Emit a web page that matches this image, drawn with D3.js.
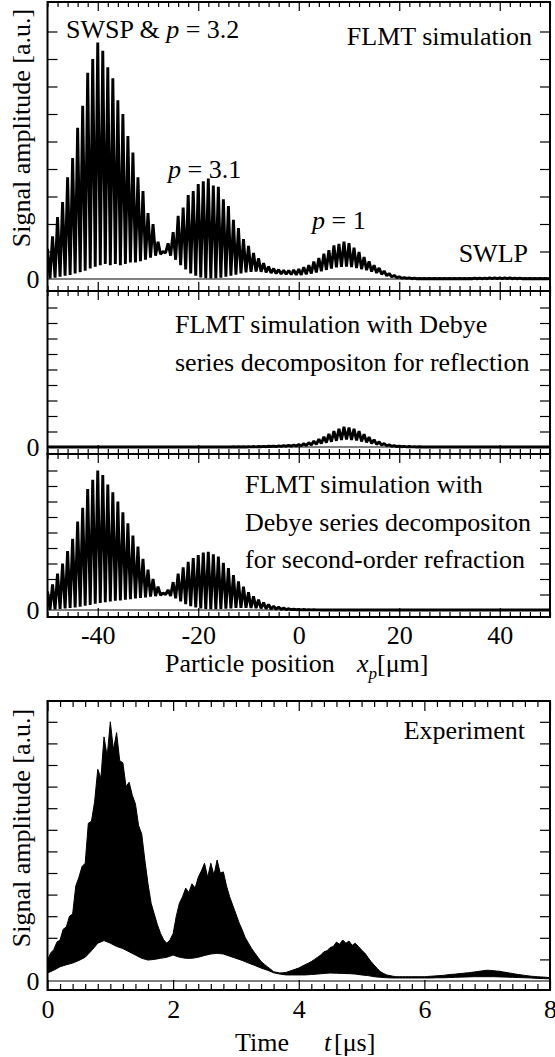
<!DOCTYPE html>
<html>
<head>
<meta charset="utf-8">
<script src="https://cdn.jsdelivr.net/npm/d3@7"></script>
<style>
  body { margin: 0; background: #fff; }
  text { font-family: "Liberation Serif", "Times New Roman", serif; fill: #000; }
</style>
</head>
<body>
<script>
// ---- data ----
// simulated signal: fringe maxima at every 1 um (-50..50), minima half way between
let peakPos = d3.range(-50, 50.5, 1);
let dipPos = d3.range(-49.5, 50, 1);

// FLMT simulation (full)
let simPeaks = [
  1.1, 1.55, 2.25, 2.8, 3.7, 4.4, 5.5, 6.3, 7.5, 8.0,
  8.6, 8.3, 7.7, 7.3, 6.5, 6.0, 5.2, 4.6, 3.7, 3.2,
  2.4, 2.0, 1.35, 1.0, 1.3, 1.7, 2.3, 2.6, 3.05, 3.2,
  3.45, 3.55, 3.65, 3.4, 3.35, 2.9, 2.65, 2.15, 1.85, 1.45,
  1.2, 0.95, 0.75, 0.58, 0.45, 0.38, 0.34, 0.32, 0.31, 0.33,
  0.36, 0.43, 0.5, 0.63, 0.76, 0.92, 1.05, 1.22, 1.28, 1.36,
  1.3, 1.14, 0.98, 0.8, 0.64, 0.5, 0.4, 0.29, 0.2, 0.13,
  0.08, 0.05, 0.04, 0.03, 0.02, 0.02, 0.02, 0.02, 0.02, 0.02,
  0.02, 0.02, 0.02, 0.02, 0.02, 0.03, 0.03, 0.03, 0.04, 0.04,
  0.04, 0.04, 0.04, 0.03, 0.03, 0.02, 0.02, 0.02, 0.02, 0.02, 0.02
];
let simDips = [
  0.02, 0.05, 0.08, 0.12, 0.15, 0.2, 0.25, 0.3, 0.38, 0.45,
  0.5, 0.55, 0.5, 0.55, 0.5, 0.55, 0.6, 0.6, 0.65, 0.7,
  0.78, 0.85, 0.9, 0.95, 0.85, 0.7, 0.5, 0.35, 0.2, 0.12,
  0.06, 0.03, 0.02, 0.03, 0.05, 0.08, 0.12, 0.16, 0.2, 0.24,
  0.26, 0.27, 0.26, 0.24, 0.22, 0.2, 0.18, 0.17, 0.16, 0.15,
  0.15, 0.17, 0.2, 0.24, 0.28, 0.33, 0.38, 0.42, 0.44, 0.45,
  0.43, 0.4, 0.36, 0.32, 0.27, 0.22, 0.17, 0.12, 0.08, 0.05,
  0.03, 0.02, 0.01, 0.01, 0.01, 0.01, 0.01, 0.01, 0.01, 0.01,
  0.01, 0.01, 0.01, 0.01, 0.01, 0.01, 0.01, 0.01, 0.01, 0.01,
  0.01, 0.01, 0.01, 0.01, 0.01, 0.01, 0.01, 0.01, 0.01, 0.01
];

// Debye decomposition: reflection (p = 1)
let reflPeaks = [
  0.01, 0.01, 0.01, 0.01, 0.01, 0.01, 0.01, 0.01, 0.01, 0.01,
  0.01, 0.01, 0.01, 0.01, 0.01, 0.01, 0.01, 0.01, 0.01, 0.01,
  0.01, 0.01, 0.01, 0.01, 0.01, 0.01, 0.01, 0.01, 0.01, 0.01,
  0.01, 0.01, 0.01, 0.01, 0.01, 0.01, 0.01, 0.02, 0.02, 0.02,
  0.02, 0.03, 0.03, 0.04, 0.05, 0.06, 0.07, 0.09, 0.11, 0.13,
  0.16, 0.21, 0.28, 0.38, 0.5, 0.66, 0.84, 1.02, 1.18, 1.3,
  1.26, 1.17, 1.02, 0.83, 0.64, 0.47, 0.33, 0.22, 0.14, 0.09,
  0.06, 0.04, 0.03, 0.02, 0.02, 0.01, 0.01, 0.01, 0.01, 0.01,
  0.01, 0.01, 0.01, 0.01, 0.01, 0.01, 0.01, 0.01, 0.01, 0.01,
  0.01, 0.01, 0.01, 0.01, 0.01, 0.01, 0.01, 0.01, 0.01, 0.01, 0.01
];
let reflDips = [
  0, 0, 0, 0, 0, 0, 0, 0, 0, 0,
  0, 0, 0, 0, 0, 0, 0, 0, 0, 0,
  0, 0, 0, 0, 0, 0, 0, 0, 0, 0,
  0, 0, 0, 0, 0, 0, 0, 0, 0, 0,
  0.01, 0.01, 0.02, 0.02, 0.03, 0.03, 0.04, 0.05, 0.06, 0.07,
  0.08, 0.1, 0.13, 0.17, 0.22, 0.28, 0.34, 0.4, 0.45, 0.48,
  0.46, 0.42, 0.36, 0.3, 0.23, 0.17, 0.12, 0.08, 0.05, 0.03,
  0.02, 0.01, 0.01, 0, 0, 0, 0, 0, 0, 0,
  0, 0, 0, 0, 0, 0, 0, 0, 0, 0,
  0, 0, 0, 0, 0, 0, 0, 0, 0, 0
];

// Debye decomposition: second-order refraction (p = 3)
let refrPeaks = [
  1.2, 1.65, 2.35, 3.0, 3.8, 4.6, 5.7, 6.6, 7.8, 8.4,
  9.0, 8.7, 8.1, 7.6, 7.0, 6.3, 5.6, 4.8, 4.1, 3.3,
  2.6, 2.0, 1.5, 1.1, 1.3, 1.8, 2.35, 2.75, 3.1, 3.35,
  3.55, 3.7, 3.75, 3.6, 3.45, 3.05, 2.7, 2.25, 1.85, 1.5,
  1.15, 0.88, 0.66, 0.48, 0.35, 0.25, 0.18, 0.12, 0.08, 0.05,
  0.04, 0.03, 0.02, 0.02, 0.01, 0.01, 0.01, 0.01, 0.01, 0.01,
  0, 0, 0, 0, 0, 0, 0, 0, 0, 0,
  0, 0, 0, 0, 0, 0, 0, 0, 0, 0,
  0, 0, 0, 0, 0, 0, 0, 0, 0, 0,
  0, 0, 0, 0, 0, 0, 0, 0, 0, 0, 0
];
let refrDips = [
  0.02, 0.04, 0.07, 0.1, 0.13, 0.17, 0.22, 0.27, 0.33, 0.4,
  0.45, 0.5, 0.55, 0.6, 0.62, 0.66, 0.7, 0.74, 0.78, 0.82,
  0.86, 0.9, 0.95, 1.0, 0.9, 0.75, 0.55, 0.38, 0.25, 0.16,
  0.1, 0.07, 0.06, 0.06, 0.07, 0.09, 0.11, 0.13, 0.14, 0.14,
  0.13, 0.12, 0.1, 0.08, 0.06, 0.05, 0.04, 0.03, 0.02, 0.02,
  0.01, 0.01, 0.01, 0.01, 0, 0, 0, 0, 0, 0,
  0, 0, 0, 0, 0, 0, 0, 0, 0, 0,
  0, 0, 0, 0, 0, 0, 0, 0, 0, 0,
  0, 0, 0, 0, 0, 0, 0, 0, 0, 0,
  0, 0, 0, 0, 0, 0, 0, 0, 0, 0
];

// experiment: upper envelope every 0.05 us, lower envelope every 0.1 us
let expUpperTime = d3.range(161).map(i => i * 0.05);
let expUpper = [
  0.97, 1.3, 1.45, 1.8, 1.9, 2.4, 2.5, 3.0, 3.1, 4.4,
  4.8, 5.3, 5.45, 7.3, 7.4, 8.3, 9.8, 9.4, 11.3, 10.4,
  12.0, 10.7, 11.5, 10.2, 10.1, 9.0, 9.2, 8.6, 8.2, 7.2,
  6.8, 5.6, 4.5, 3.6, 3.1, 2.6, 2.2, 1.9, 1.75, 1.9,
  2.2, 3.0, 3.6, 3.9, 4.3, 4.1, 4.5, 4.3, 4.8, 5.1,
  5.45, 4.8, 5.45, 4.9, 5.6, 5.0, 5.05, 4.4, 3.9, 3.5,
  3.1, 2.7, 2.36, 2.0, 1.75, 1.5, 1.3, 1.1, 0.9, 0.78,
  0.66, 0.55, 0.43, 0.4, 0.37, 0.38, 0.4, 0.45, 0.5, 0.55,
  0.6, 0.68, 0.75, 0.82, 0.9, 1.0, 1.1, 1.2, 1.35, 1.4,
  1.55, 1.6, 1.8, 1.7, 1.9, 1.75, 1.85, 1.65, 1.75, 1.6,
  1.43, 1.3, 1.1, 0.9, 0.74, 0.58, 0.43, 0.35, 0.28, 0.25,
  0.22, 0.2, 0.2, 0.2, 0.2, 0.2, 0.2, 0.2, 0.2, 0.2,
  0.2, 0.21, 0.22, 0.23, 0.24, 0.25, 0.26, 0.28, 0.3, 0.31,
  0.32, 0.34, 0.35, 0.37, 0.38, 0.4, 0.42, 0.44, 0.46, 0.48,
  0.5, 0.49, 0.48, 0.46, 0.45, 0.42, 0.4, 0.37, 0.35, 0.32,
  0.3, 0.28, 0.26, 0.24, 0.22, 0.21, 0.2, 0.19, 0.18, 0.17,
  0.15
];
let expLowerTime = d3.range(81).map(i => i * 0.1);
let expLower = [
  0.37, 0.5, 0.66, 0.75, 0.83, 0.95, 1.1, 1.4, 1.75, 1.87,
  1.75, 1.6, 1.5, 1.35, 1.2, 1.05, 0.97, 1.0, 1.05, 1.1,
  1.2, 1.1, 1.05, 1.05, 1.1, 1.18, 1.25, 1.28, 1.25, 1.15,
  1.05, 0.95, 0.83, 0.72, 0.6, 0.5, 0.38, 0.32, 0.28, 0.28,
  0.28, 0.28, 0.3, 0.32, 0.35, 0.37, 0.36, 0.35, 0.34, 0.32,
  0.28, 0.25, 0.2, 0.17, 0.15, 0.14, 0.14, 0.14, 0.14, 0.14,
  0.14, 0.14, 0.15, 0.15, 0.16, 0.17, 0.18, 0.19, 0.2, 0.2,
  0.2, 0.2, 0.19, 0.18, 0.17, 0.16, 0.15, 0.14, 0.12, 0.11,
  0.1
];

// tick values
let xMajorTicks = [-40, -20, 0, 20, 40];
let xMinorTicks = d3.range(-50, 51, 2).filter(d => xMajorTicks.indexOf(d) < 0);
let tMajorTicks = [0, 2, 4, 6, 8];
let tMinorTicks = d3.range(1, 40).filter(i => i % 10 !== 0).map(i => i * 0.2);
let simYTicks = d3.range(1, 10);
let expYTicks = d3.range(1, 13);

// ---- layout ----
let svgWidth = 555;
let svgHeight = 1057;
let left = 47.5;
let right = 550;
let fontSize = 26;

let svg = d3.select("body")
  .append("svg")
  .attr("width", svgWidth)
  .attr("height", svgHeight);

let xScale = d3.scaleLinear().domain([-50, 50]).range([left, right]);
let tScale = d3.scaleLinear().domain([0, 8]).range([left, right]);

let simPanels = [
  {top: 2, bottom: 291, zero: 279, unit: 27.5, peaks: simPeaks, dips: simDips},
  {top: 291, bottom: 454, zero: 447, unit: 15.5, peaks: reflPeaks, dips: reflDips},
  {top: 454, bottom: 617, zero: 610, unit: 15.5, peaks: refrPeaks, dips: refrDips}
];

// helper: ticks only, no labels
function tickAxis(axis, values, size) {
  return axis.tickValues(values).tickSize(size).tickFormat("");
}

function styleAxis(g) {
  g.select(".domain").remove();
  g.selectAll(".tick line").attr("stroke", "#000").attr("stroke-width", 1.2);
  g.selectAll("text")
    .attr("font-family", "'Liberation Serif', 'Times New Roman', serif")
    .attr("font-size", fontSize)
    .attr("fill", "#000");
}

function drawTicks(yScale, top, bottom, xs, majors, minors, majLen, minLen, yTicks) {
  // x ticks, top and bottom (inward)
  svg.append("g").attr("transform", `translate(0, ${top})`)
    .call(tickAxis(d3.axisTop(xs), minors, -minLen)).call(styleAxis);
  svg.append("g").attr("transform", `translate(0, ${top})`)
    .call(tickAxis(d3.axisTop(xs), majors, -majLen)).call(styleAxis);
  svg.append("g").attr("transform", `translate(0, ${bottom})`)
    .call(tickAxis(d3.axisBottom(xs), minors, -minLen)).call(styleAxis);
  svg.append("g").attr("transform", `translate(0, ${bottom})`)
    .call(tickAxis(d3.axisBottom(xs), majors, -majLen)).call(styleAxis);

  // y ticks, left and right (inward)
  svg.append("g").attr("transform", `translate(${left}, 0)`)
    .call(tickAxis(d3.axisLeft(yScale), yTicks, -10)).call(styleAxis);
  svg.append("g").attr("transform", `translate(${right}, 0)`)
    .call(tickAxis(d3.axisRight(yScale), yTicks, -10)).call(styleAxis);

  // "0" label
  svg.append("g").attr("transform", `translate(${left}, 0)`)
    .call(d3.axisLeft(yScale).tickValues([0]).tickSize(0).tickPadding(8).tickFormat(d => String(d)))
    .call(styleAxis);

  // zero line
  svg.append("line")
    .attr("x1", left).attr("x2", right)
    .attr("y1", yScale(0)).attr("y2", yScale(0))
    .attr("stroke", "#000").attr("stroke-width", 1);
}

// ---- simulation panels ----
simPanels.forEach(function(p, k) {
  let yScale = d3.scaleLinear().domain([0, 10]).range([p.zero, p.zero - 10 * p.unit]);

  svg.append("clipPath").attr("id", "clip" + k)
    .append("rect")
    .attr("x", left).attr("y", p.top)
    .attr("width", right - left).attr("height", p.bottom - p.top);

  drawTicks(yScale, p.top, p.bottom, xScale, xMajorTicks, xMinorTicks, 9, 5, simYTicks);

  // fringe signal: alternate between maxima and minima
  let pts = [];
  peakPos.forEach(function(x, i) {
    pts.push([x, p.peaks[i]]);
    if (i < dipPos.length) pts.push([dipPos[i], p.dips[i]]);
  });

  let line = d3.line()
    .x(d => xScale(d[0]))
    .y(d => yScale(d[1]));

  svg.append("path")
    .datum(pts)
    .attr("clip-path", `url(#clip${k})`)
    .attr("d", line)
    .attr("fill", "none")
    .attr("stroke", "#000")
    .attr("stroke-width", 2.9)
    .attr("stroke-linejoin", "bevel");

  // frame
  svg.append("rect")
    .attr("x", left).attr("y", p.top)
    .attr("width", right - left).attr("height", p.bottom - p.top)
    .attr("fill", "none").attr("stroke", "#000").attr("stroke-width", 2);
});

// x tick labels of simulation panels
svg.append("g").attr("transform", `translate(0, 617)`)
  .call(d3.axisBottom(xScale).tickValues(xMajorTicks).tickSize(0).tickPadding(9).tickFormat(d => String(d)))
  .call(styleAxis);

// x axis title
let xTitle = svg.append("text").attr("x", 165).attr("y", 672).attr("font-size", fontSize);
xTitle.append("tspan").text("Particle position");
xTitle.append("tspan").attr("x", 357).attr("font-style", "italic").text("x");
xTitle.append("tspan").attr("font-style", "italic").attr("font-size", 17).attr("dy", 7).text("p");
xTitle.append("tspan").attr("x", 377).attr("dy", -7).text("[μm]");

// y axis title, top
svg.append("text")
  .attr("transform", "translate(30, 128) rotate(-90)")
  .attr("text-anchor", "middle")
  .attr("font-size", fontSize)
  .text("Signal amplitude [a.u.]");

// annotations, panel 1
let a1 = svg.append("text").attr("x", 66).attr("y", 38).attr("font-size", fontSize);
a1.append("tspan").text("SWSP & ");
a1.append("tspan").attr("font-style", "italic").text("p");
a1.append("tspan").text(" = 3.2");

svg.append("text").attr("x", 532).attr("y", 45).attr("text-anchor", "end")
  .attr("font-size", fontSize).text("FLMT simulation");

let a2 = svg.append("text").attr("x", 168).attr("y", 178).attr("font-size", fontSize);
a2.append("tspan").attr("font-style", "italic").text("p");
a2.append("tspan").text(" = 3.1");

let a3 = svg.append("text").attr("x", 312).attr("y", 229).attr("font-size", fontSize);
a3.append("tspan").attr("font-style", "italic").text("p");
a3.append("tspan").text(" = 1");

svg.append("text").attr("x", 528).attr("y", 262).attr("text-anchor", "end")
  .attr("font-size", fontSize).text("SWLP");

// annotations, panel 2 and 3
[["FLMT simulation with Debye", 333], ["series decompositon for reflection", 371]].forEach(function(d) {
  svg.append("text").attr("x", 175).attr("y", d[1]).attr("font-size", fontSize).text(d[0]);
});
[["FLMT simulation with", 493], ["Debye series decompositon", 531], ["for second-order refraction", 568]].forEach(function(d) {
  svg.append("text").attr("x", 245).attr("y", d[1]).attr("font-size", fontSize).text(d[0]);
});

// ---- experiment panel ----
let expTop = 701;
let expBottom = 990;
let yExp = d3.scaleLinear().domain([0, 13]).range([981, 981 - 13 * 21.6]);

drawTicks(yExp, expTop, expBottom, tScale, tMajorTicks, tMinorTicks, 10, 6, expYTicks);

// filled band between lower and upper envelope
let band = expUpperTime.map((t, i) => [t, expUpper[i]])
  .concat(expLowerTime.map((t, i) => [t, expLower[i]]).reverse());

let bandLine = d3.line()
  .x(d => tScale(d[0]))
  .y(d => yExp(d[1]));

svg.append("path")
  .datum(band)
  .attr("d", d => bandLine(d) + "Z")
  .attr("fill", "#000")
  .attr("stroke", "#000")
  .attr("stroke-width", 1);

svg.append("rect")
  .attr("x", left).attr("y", expTop)
  .attr("width", right - left).attr("height", expBottom - expTop)
  .attr("fill", "none").attr("stroke", "#000").attr("stroke-width", 2);

svg.append("g").attr("transform", `translate(0, ${expBottom})`)
  .call(d3.axisBottom(tScale).tickValues(tMajorTicks).tickSize(0).tickPadding(10).tickFormat(d => String(d)))
  .call(styleAxis);

svg.append("text").attr("x", 525).attr("y", 739).attr("text-anchor", "end")
  .attr("font-size", fontSize).text("Experiment");

svg.append("text")
  .attr("transform", "translate(30, 828) rotate(-90)")
  .attr("text-anchor", "middle")
  .attr("font-size", fontSize)
  .text("Signal amplitude [a.u.]");

let tTitle = svg.append("text").attr("x", 235).attr("y", 1051).attr("font-size", fontSize);
tTitle.append("tspan").text("Time");
tTitle.append("tspan").attr("x", 324).attr("font-style", "italic").text("t");
tTitle.append("tspan").attr("x", 334).text("[μs]");
</script>
</body>
</html>
